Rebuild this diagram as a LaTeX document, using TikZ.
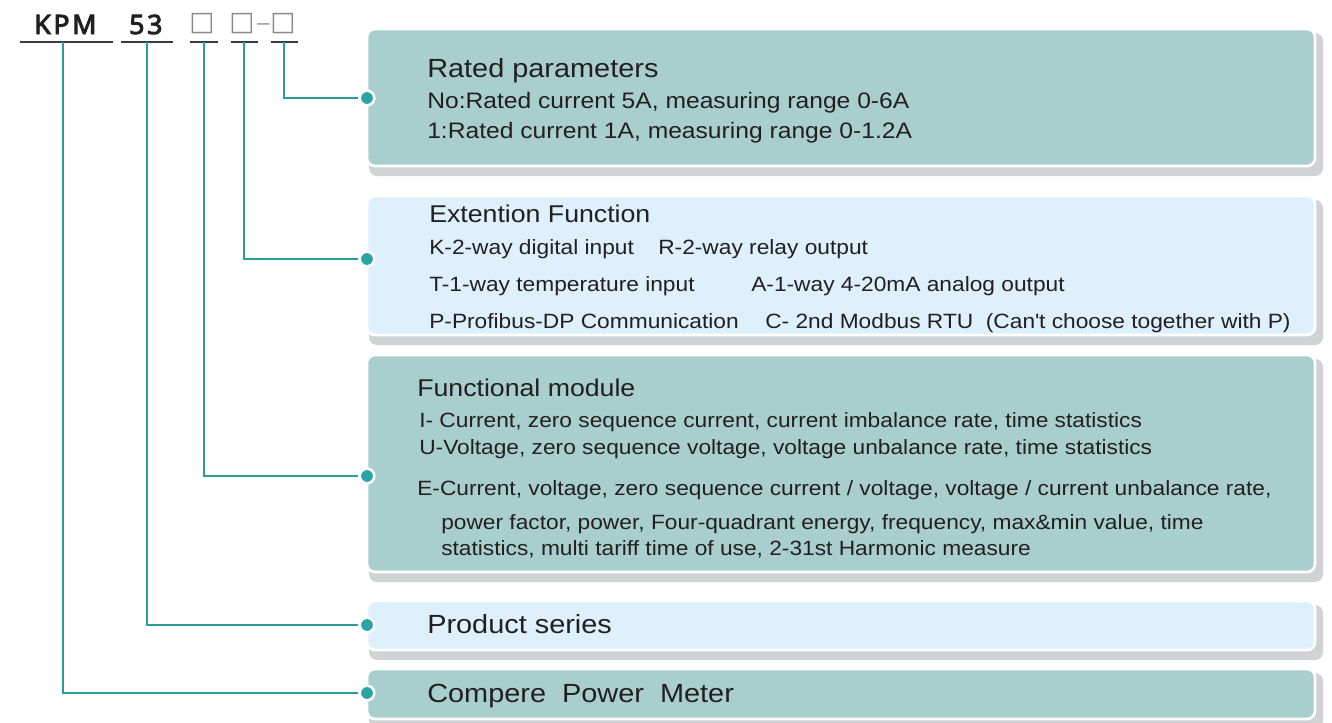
\documentclass[tikz,border=0pt]{standalone}
\usepackage{fontspec}
\setmainfont[FakeStretch=1.1]{Liberation Sans}
\newfontfamily\kpmfont[LetterSpace=10,FakeBold=3.5]{Noto Sans}
\newfontfamily\symfont{DejaVu Sans}
\definecolor{boxteal}{HTML}{A8CFCE}
\definecolor{boxblue}{HTML}{DDF0FB}
\definecolor{shadowgray}{HTML}{D1D2D4}
\definecolor{lineteal}{HTML}{2A9D96}
\definecolor{dotteal}{HTML}{28A4A4}
\definecolor{textdark}{HTML}{231F20}
\definecolor{ulgray}{HTML}{3A3A3A}
\definecolor{sqgray}{HTML}{8A8A8A}
\begin{document}
\begin{tikzpicture}[x=0.75pt,y=-0.75pt,
  shadowbox/.style={fill=shadowgray, rounded corners=6pt},
  mainbox/.style={draw=white, line width=2pt, rounded corners=6pt},
  txt/.style={anchor=base west, inner sep=0pt, text=textdark},
  bigtxt/.style={txt, font=\fontsize{19.7pt}{22pt}\selectfont},
  headtxt/.style={txt, font=\fontsize{18.2pt}{22pt}\selectfont},
  linetxt/.style={txt, font=\fontsize{16.8pt}{20pt}\selectfont},
  smalltxt/.style={txt, font=\fontsize{15.5pt}{18pt}\selectfont},
  dot/.style={circle, fill=dotteal, draw=white, line width=1.9pt, minimum size=10.9pt, inner sep=0pt},
  conn/.style={draw=lineteal, line width=1.5pt},
  uline/.style={draw=ulgray, line width=1.6pt},
  code/.style={anchor=base west, inner sep=0pt, text=textdark, font=\kpmfont\fontsize{20pt}{24pt}\selectfont},
  sq/.style={anchor=base west, inner sep=0pt, text=sqgray, font=\symfont\fontsize{20pt}{24pt}\selectfont}
]
\useasboundingbox (0,0) rectangle (1332,722);

% ---------- boxes ----------
\path[shadowbox] (369,33) rectangle (1323,176);
\path[mainbox, fill=boxteal] (367,29) rectangle (1315,166);
\path[shadowbox] (369,200) rectangle (1323,345);
\path[mainbox, fill=boxblue] (367,196) rectangle (1315,335);
\path[shadowbox] (369,359) rectangle (1323,582);
\path[mainbox, fill=boxteal] (367,355) rectangle (1315,572);
\path[shadowbox] (369,605) rectangle (1323,660);
\path[mainbox, fill=boxblue] (367,601) rectangle (1315,650);
\path[shadowbox] (369,673) rectangle (1323,729);
\path[mainbox, fill=boxteal] (367,669) rectangle (1315,719);

% ---------- code header ----------
\node[code] (kpm) at (34,34) {KPM};
\node[code] (n53) at (129,34) {53};
\node[sq] (s1) at (189,30) {□};
\node[sq] (s2) at (229,30) {□};
\node[sq, font=\fontsize{15pt}{18pt}\selectfont] (dash) at (257,29) {–};
\node[sq] (s3) at (270,30) {□};

\draw[uline] (20,42) -- (113,42);
\draw[uline] (121,42) -- (173,42);
\draw[uline] (190,42) -- (218,42);
\draw[uline] (231,42) -- (258,42);
\draw[uline] (271,42) -- (298,42);

\coordinate (u1) at (63,42);
\coordinate (u2) at (147,42);
\coordinate (u3) at (204,42);
\coordinate (u4) at (244,42);
\coordinate (u5) at (284,42);

% ---------- dots ----------
\node[dot] (d1) at (367,98) {};
\node[dot] (d2) at (367,259) {};
\node[dot] (d3) at (367,476) {};
\node[dot] (d4) at (367,625) {};
\node[dot] (d5) at (367,693) {};

% ---------- connectors ----------
\draw[conn] (u5) |- (d1);
\draw[conn] (u4) |- (d2);
\draw[conn] (u3) |- (d3);
\draw[conn] (u2) |- (d4);
\draw[conn] (u1) |- (d5);

% ---------- texts ----------
\node[bigtxt] (t1) at (427,77.7) {Rated parameters};
\node[linetxt] (t1a) at (427,108.3) {No:Rated current 5A, measuring range 0-6A};
\node[linetxt] (t1b) at (427,138.5) {1:Rated current 1A, measuring range 0-1.2A};

\node[headtxt] (t2) at (429,222.7) {Extention Function};
\node[smalltxt] (t2a) at (429,254) {K-2-way digital input};
\node[smalltxt] (t2b) at (658,254) {R-2-way relay output};
\node[smalltxt] (t2c) at (429,291) {T-1-way temperature input};
\node[smalltxt] (t2d) at (751,291) {A-1-way 4-20mA analog output};
\node[smalltxt] (t2e) at (429,328) {P-Profibus-DP Communication};
\node[smalltxt] (t2f) at (765,328) {C- 2nd Modbus RTU\ \ (Can\textquotesingle t choose together with P)};

\node[headtxt] (t3) at (417,396.7) {Functional module};
\node[smalltxt] (t3a) at (419,427.7) {I- Current, zero sequence current, current imbalance rate, time statistics};
\node[smalltxt] (t3b) at (419,454) {U-Voltage, zero sequence voltage, voltage unbalance rate, time statistics};
\node[smalltxt] (t3c) at (417,495) {E-Current, voltage, zero sequence current / voltage, voltage / current unbalance rate,};
\node[smalltxt] (t3d) at (441,529.5) {power factor, power, Four-quadrant energy, frequency, max\&min value, time};
\node[smalltxt] (t3e) at (441,555) {statistics, multi tariff time of use, 2-31st Harmonic measure};

\node[bigtxt] (t4) at (427,633) {Product series};
\node[bigtxt] (t5) at (427,702.5) {Compere\ \ Power\ \ Meter};
\end{tikzpicture}
\end{document}
